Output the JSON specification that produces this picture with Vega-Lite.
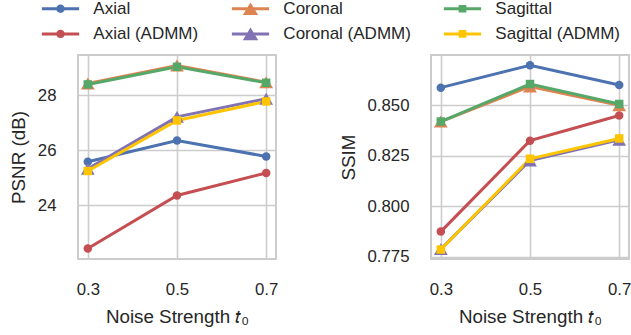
{
  "$schema": "https://vega.github.io/schema/vega-lite/v6.json",
  "padding": {"left": 8, "top": 0, "right": 2, "bottom": 2},
  "background": "white",
  "config": {
    "font": "Liberation Sans",
    "view": {"stroke": "#cccccc", "strokeWidth": 2},
    "axis": {
      "grid": true, "gridColor": "#cccccc", "gridWidth": 1.6,
      "domain": false, "ticks": false,
      "labelFont": "Liberation Sans", "labelFontSize": 16.8, "labelColor": "#262626",
      "titleFont": "Liberation Sans", "titleFontSize": 18.8, "titleFontWeight": "normal", "titleColor": "#262626"
    },
    "axisX": {"labelPadding": 22, "titlePadding": 10},
    "axisY": {"labelPadding": 22, "titlePadding": 9},
    "legend": {"title": null, "orient": "none", "direction": "horizontal", "legendX": -26, "legendY": -55, "columns": 3, "padding": 0, "labelFont": "Liberation Sans", "labelFontSize": 17, "labelColor": "#262626", "labelOffset": 24.35, "columnPadding": 32, "rowPadding": 7.4, "symbolSize": 196, "symbolStrokeWidth": 0, "symbolOpacity": 1}
  },
  "datasets": {
    "d": [
      {"series": "Axial", "t": 0.3, "psnr": 25.59, "ssim": 0.8588},
      {"series": "Axial", "t": 0.5, "psnr": 26.36, "ssim": 0.8699},
      {"series": "Axial", "t": 0.7, "psnr": 25.78, "ssim": 0.8601},
      {"series": "Axial (ADMM)", "t": 0.3, "psnr": 22.43, "ssim": 0.7874},
      {"series": "Axial (ADMM)", "t": 0.5, "psnr": 24.36, "ssim": 0.8325},
      {"series": "Axial (ADMM)", "t": 0.7, "psnr": 25.18, "ssim": 0.845},
      {"series": "Coronal", "t": 0.3, "psnr": 28.43, "ssim": 0.842},
      {"series": "Coronal", "t": 0.5, "psnr": 29.09, "ssim": 0.8594},
      {"series": "Coronal", "t": 0.7, "psnr": 28.48, "ssim": 0.85},
      {"series": "Coronal (ADMM)", "t": 0.3, "psnr": 25.33, "ssim": 0.7787},
      {"series": "Coronal (ADMM)", "t": 0.5, "psnr": 27.22, "ssim": 0.8227},
      {"series": "Coronal (ADMM)", "t": 0.7, "psnr": 27.88, "ssim": 0.8329},
      {"series": "Sagittal", "t": 0.3, "psnr": 28.4, "ssim": 0.842},
      {"series": "Sagittal", "t": 0.5, "psnr": 29.04, "ssim": 0.8606},
      {"series": "Sagittal", "t": 0.7, "psnr": 28.46, "ssim": 0.8507},
      {"series": "Sagittal (ADMM)", "t": 0.3, "psnr": 25.25, "ssim": 0.7785},
      {"series": "Sagittal (ADMM)", "t": 0.5, "psnr": 27.09, "ssim": 0.8235},
      {"series": "Sagittal (ADMM)", "t": 0.7, "psnr": 27.78, "ssim": 0.8336}
    ]
  },
  "spacing": 155,
  "bounds": "flush",
  "hconcat": [
    {
      "width": 198, "height": 204,
      "data": {"name": "d"},
      "encoding": {
        "x": {"field": "t", "type": "quantitative", "scale": {"domain": [0.278, 0.722], "nice": false, "zero": false}, "axis": {"values": [0.3, 0.5, 0.7], "format": ".1f", "title": "Noise Strength 𝑡₀"}},
        "y": {"field": "psnr", "type": "quantitative", "scale": {"domain": [22.05, 29.47], "nice": false, "zero": false}, "axis": {"values": [24, 26, 28], "title": "PSNR (dB)"}},
        "color": {"field": "series", "type": "nominal", "scale": {"domain": ["Axial", "Axial (ADMM)", "Coronal", "Coronal (ADMM)", "Sagittal", "Sagittal (ADMM)"], "range": ["#4c72b0", "#c44e52", "#dd8452", "#8172b3", "#55a868", "#ffc400"]}, "legend": null}
      },
      "layer": [
        {"mark": {"type": "line", "strokeWidth": 3}},
        {"transform": [{"filter": {"field": "series", "oneOf": ["Axial", "Axial (ADMM)"]}}], "mark": {"type": "point", "shape": "circle", "filled": true, "size": 72, "opacity": 1}},
        {"transform": [{"filter": {"field": "series", "oneOf": ["Coronal", "Coronal (ADMM)"]}}], "mark": {"type": "point", "shape": "triangle-up", "filled": true, "size": 190, "opacity": 1}},
        {"transform": [{"filter": {"field": "series", "oneOf": ["Sagittal", "Sagittal (ADMM)"]}}], "mark": {"type": "point", "shape": "square", "filled": true, "size": 72, "opacity": 1}},
        {
          "mark": {"type": "point", "filled": true, "opacity": 0},
          "encoding": {
            "color": {"value": "transparent"},
            "fill": {"field": "series", "type": "nominal", "scale": {"domain": ["Axial", "Coronal", "Sagittal", "Axial (ADMM)", "Coronal (ADMM)", "Sagittal (ADMM)"], "range": ["#4c72b0", "#dd8452", "#55a868", "#c44e52", "#8172b3", "#ffc400"]}},
            "shape": {"field": "series", "type": "nominal", "scale": {"domain": ["Axial", "Coronal", "Sagittal", "Axial (ADMM)", "Coronal (ADMM)", "Sagittal (ADMM)"], "range": [
              "M-2.66,-0.214H2.66V0.214H-2.66Z M-0.6,0A0.6,0.6 0 1,1 0.6,0A0.6,0.6 0 1,1 -0.6,0Z",
              "M-2.66,-0.214H2.66V0.214H-2.66Z M0,-0.9L1.1,0.9L-1.1,0.9Z",
              "M-2.66,-0.214H2.66V0.214H-2.66Z M-0.55,-0.55H0.55V0.55H-0.55Z",
              "M-2.66,-0.214H2.66V0.214H-2.66Z M-0.6,0A0.6,0.6 0 1,1 0.6,0A0.6,0.6 0 1,1 -0.6,0Z",
              "M-2.66,-0.214H2.66V0.214H-2.66Z M0,-0.9L1.1,0.9L-1.1,0.9Z",
              "M-2.66,-0.214H2.66V0.214H-2.66Z M-0.55,-0.55H0.55V0.55H-0.55Z"
            ]}}
          }
        }
      ]
    },
    {
      "width": 198, "height": 204,
      "data": {"name": "d"},
      "encoding": {
        "x": {"field": "t", "type": "quantitative", "scale": {"domain": [0.278, 0.722], "nice": false, "zero": false}, "axis": {"values": [0.3, 0.5, 0.7], "format": ".1f", "title": "Noise Strength 𝑡₀"}},
        "y": {"field": "ssim", "type": "quantitative", "scale": {"domain": [0.7738, 0.875], "nice": false, "zero": false}, "axis": {"values": [0.775, 0.8, 0.825, 0.85], "format": ".3f", "title": "SSIM"}},
        "color": {"field": "series", "type": "nominal", "legend": null}
      },
      "layer": [
        {"mark": {"type": "line", "strokeWidth": 3}},
        {"transform": [{"filter": {"field": "series", "oneOf": ["Axial", "Axial (ADMM)"]}}], "mark": {"type": "point", "shape": "circle", "filled": true, "size": 72, "opacity": 1}},
        {"transform": [{"filter": {"field": "series", "oneOf": ["Coronal", "Coronal (ADMM)"]}}], "mark": {"type": "point", "shape": "triangle-up", "filled": true, "size": 190, "opacity": 1}},
        {"transform": [{"filter": {"field": "series", "oneOf": ["Sagittal", "Sagittal (ADMM)"]}}], "mark": {"type": "point", "shape": "square", "filled": true, "size": 72, "opacity": 1}}
      ]
    }
  ]
}
